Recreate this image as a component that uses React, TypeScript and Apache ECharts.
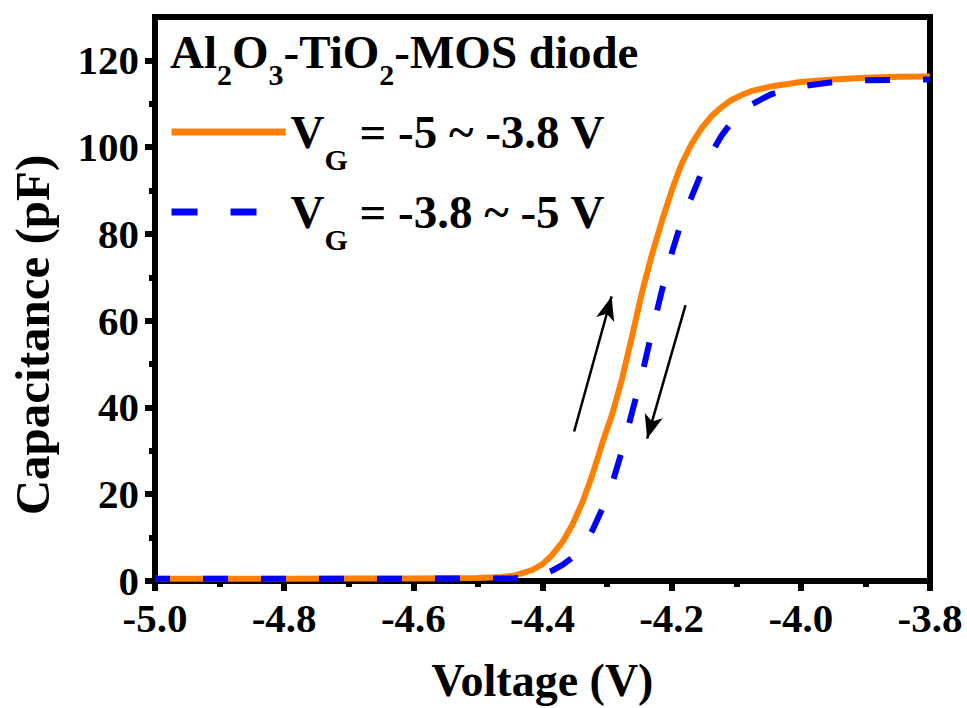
import React, { useEffect, useRef } from 'react';
import * as echarts from 'echarts';

// Gate voltage (V)
const voltage = [
  -5.0, -4.9, -4.8, -4.7, -4.6, -4.5,
  -4.462, -4.446, -4.431, -4.415, -4.4, -4.385, -4.369, -4.354, -4.338, -4.323,
  -4.308, -4.292, -4.277, -4.262, -4.246, -4.231, -4.215, -4.2, -4.185, -4.169,
  -4.154, -4.138, -4.123, -4.108, -4.092, -4.077,
  -4.046, -4.0, -3.95, -3.9, -3.85, -3.8,
];
// Capacitance (pF), sweep VG = -5 ~ -3.8 V
const capForward = [
  0.5, 0.5, 0.5, 0.55, 0.6, 0.7,
  0.9, 1.2, 1.8, 2.6, 3.9, 6.0, 9.0, 12.9, 18.2, 24.4,
  31.5, 38.5, 46.5, 56.0, 66.5, 75.0, 83.0, 90.0, 96.0, 100.8,
  104.3, 107.2, 109.2, 110.8, 112.0, 112.9,
  114.0, 115.0, 115.6, 116.0, 116.2, 116.3,
];
// Capacitance (pF), sweep VG = -3.8 ~ -5 V
const capReverse = [
  0.5, 0.5, 0.5, 0.5, 0.55, 0.6,
  0.6, 0.6, 0.8, 1.0, 1.5, 2.4, 3.7, 5.4, 8.0, 11.6,
  16.5, 22.5, 30.0, 38.5, 47.5, 57.2, 67.0, 75.5, 82.8, 88.6,
  94.0, 98.8, 102.6, 105.6, 108.0, 109.8,
  112.2, 114.0, 115.0, 115.4, 115.5, 115.6,
];

const seriesNames = ['VG = -5 ~ -3.8 V', 'VG = -3.8 ~ -5 V'];
const legendRich = ['{m|V}{s|G}{m| = -5 ~ -3.8 V}', '{m|V}{s|G}{m| = -3.8 ~ -5 V}'];
const titleRich = '{m|Al}{s|2}{m|O}{s|3}{m|-TiO}{s|2}{m|-MOS diode}';

const yMajorTicks = [0, 20, 40, 60, 80, 100, 120];
const yMinorTicks = [10, 30, 50, 70, 90, 110];

// sweep direction arrows [tail, head] in data coordinates
const arrowUp = [[-4.351, 34.45], [-4.293, 65.6]];
const arrowDown = [[-4.1785, 63.6], [-4.238, 32.8]];

const FONT = '"Liberation Serif", "Times New Roman", serif';
const ORANGE = '#FF7F00';
const BLUE = '#0000FF';

export default function App() {
  const ref = useRef<HTMLDivElement>(null);

  useEffect(() => {
    document.body.style.margin = '0';
    if (!ref.current) return;
    const chart = echarts.init(ref.current, null, { renderer: 'svg' });

    const mainTxt = (size: number) => ({
      fontSize: size, fontWeight: 'bold', fontFamily: FONT, color: '#000',
      lineHeight: size, verticalAlign: 'middle',
    });
    const subTxt = (size: number, drop: number) => ({
      fontSize: size, fontWeight: 'bold', fontFamily: FONT, color: '#000',
      lineHeight: size, verticalAlign: 'middle', padding: [drop, 0, 0, 0],
    });

    const legendBase = {
      left: 168, orient: 'vertical', padding: 0, itemWidth: 114, itemHeight: 14,
      itemGap: 0, selectedMode: false,
      itemStyle: { opacity: 0, borderWidth: 0 },
      textStyle: { rich: { m: mainTxt(47), s: subTxt(30, 54) } },
    };

    const option: any = {
      animation: false,
      backgroundColor: '#fff',
      title: {
        text: titleRich, left: 170, top: 28, padding: 0,
        textStyle: { rich: { m: mainTxt(47), s: subTxt(30, 46) } },
      },
      legend: [
        {
          ...legendBase, top: 90, data: [seriesNames[0]],
          formatter: () => legendRich[0],
          lineStyle: { width: 7, color: ORANGE, type: 'solid' },
        },
        {
          ...legendBase, top: 170, data: [seriesNames[1]],
          formatter: () => legendRich[1],
          lineStyle: { width: 7, color: BLUE, type: [26, 33], dashOffset: 0 },
        },
      ],
      grid: {
        left: 150, right: 37, top: 17, bottom: 125,
        show: true, borderColor: '#000', borderWidth: 6, backgroundColor: 'transparent',
      },
      xAxis: {
        type: 'value', min: -5, max: -3.8, interval: 0.2,
        axisLine: { lineStyle: { color: '#000', width: 6 } },
        axisTick: { length: 10, lineStyle: { color: '#000', width: 6 } },
        minorTick: { show: true, splitNumber: 2, length: 6, lineStyle: { color: '#000', width: 6 } },
        splitLine: { show: false },
        axisLabel: {
          fontSize: 41, fontWeight: 'bold', fontFamily: FONT, color: '#000', margin: 19,
          lineHeight: 36,
          formatter: (v: number) => v.toFixed(1),
        },
        name: 'Voltage (V)', nameLocation: 'middle', nameGap: 76,
        nameTextStyle: { fontSize: 46, fontWeight: 'bold', fontFamily: FONT, color: '#000' },
      },
      yAxis: [
        {
          type: 'value', min: 0, max: 130, position: 'left',
          axisLine: { show: true, lineStyle: { color: '#000', width: 6 } },
          axisTick: { show: true, customValues: yMajorTicks, length: 10, lineStyle: { color: '#000', width: 6 } },
          splitLine: { show: false },
          axisLabel: {
            customValues: yMajorTicks,
            fontSize: 41, fontWeight: 'bold', fontFamily: FONT, color: '#000', margin: 16,
            lineHeight: 32,
          },
          name: 'Capacitance (pF)', nameLocation: 'middle', nameRotate: 90, nameGap: 98,
          nameTextStyle: {
            fontSize: 49, fontWeight: 'bold', fontFamily: FONT, color: '#000',
            padding: [0, 72, 0, 0],
          },
        },
        {
          type: 'value', min: 0, max: 130, position: 'left',
          axisLine: { show: false },
          axisTick: { show: true, customValues: yMinorTicks, length: 6, lineStyle: { color: '#000', width: 6 } },
          axisLabel: { show: false },
          splitLine: { show: false },
        },
      ],
      series: [
        {
          type: 'line', name: seriesNames[0],
          data: voltage.map((v, i) => [v, capForward[i]]),
          symbol: 'none', showSymbol: false,
          lineStyle: { color: ORANGE, width: 6, join: 'round' }, itemStyle: { color: ORANGE },
          z: 2,
          markLine: {
            silent: true, symbol: ['none', 'arrow'], symbolSize: [14, 24],
            label: { show: false },
            lineStyle: { color: '#000', width: 2.5, type: 'solid' },
            itemStyle: { color: '#000' },
            emphasis: { disabled: true },
            data: [
              [{ coord: arrowUp[0] }, { coord: arrowUp[1] }],
              [{ coord: arrowDown[0] }, { coord: arrowDown[1] }],
            ],
          },
        },
        {
          type: 'line', name: seriesNames[1],
          data: voltage.map((v, i) => [v, capReverse[i]]),
          symbol: 'none', showSymbol: false,
          lineStyle: { color: BLUE, width: 6, type: [25, 33], dashOffset: 10, join: 'round' },
          itemStyle: { color: BLUE },
          z: 3,
        },
      ],
    };

    chart.setOption(option);
    return () => chart.dispose();
  }, []);

  return <div ref={ref} style={{ width: 967, height: 708 }} />;
}
